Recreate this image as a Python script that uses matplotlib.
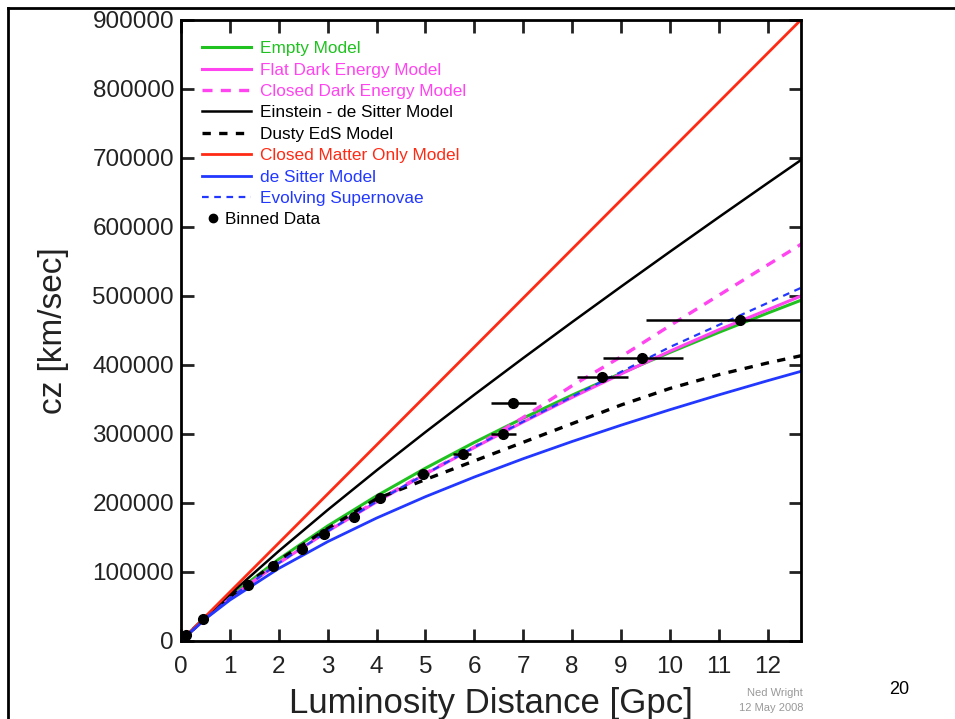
import matplotlib
matplotlib.use("Agg")
import matplotlib.pyplot as plt
from matplotlib.lines import Line2D
from matplotlib.ticker import FuncFormatter

plt.rcParams["font.family"] = ["Liberation Sans", "DejaVu Sans"]

# luminosity distance grid [Gpc]
dist = [0, 0.5, 1, 2, 3, 4, 5, 6, 7, 8, 9, 10, 11, 12, 12.7]

# model curves, cz [km/sec]
empty = [0, 33600, 64140, 118560, 166670, 210260, 250410, 287830, 323000,
         356280, 387960, 418250, 447300, 475270, 494300]
flat_de = [0, 33000, 61800, 113000, 158900, 201500, 241900, 280400, 317400,
           353000, 387000, 420000, 451000, 480000, 500500]
closed_de = [0, 33000, 62000, 113000, 160000, 203000, 243000, 281000, 324000,
             370000, 412000, 457000, 501000, 545000, 575700]
eds = [0, 34560, 67570, 130280, 189890, 247190, 302760, 356970, 410060,
       462190, 513530, 564170, 614200, 663680, 698000]
dusty_eds = [0, 34000, 64000, 117000, 163000, 206000, 234000, 261000, 288000,
             315000, 342000, 366000, 386000, 403000, 413700]
closed_matter = [0, 35500, 71000, 142000, 213000, 284000, 355000, 426000,
                 497000, 568000, 639000, 710000, 781000, 852000, 901700]
de_sitter = [0, 32070, 59280, 105130, 143920, 178140, 209120, 237630, 264190,
             289140, 312740, 335200, 356670, 377260, 391200]
evolving_sn = [0, 33000, 62000, 113000, 159000, 202000, 242000, 281000, 318000,
               354000, 390000, 426000, 458000, 490000, 512400]

# binned data
bin_d = [0.10, 0.46, 1.38, 1.89, 2.47, 2.92, 3.54, 4.07, 4.95, 5.76, 6.59,
         6.80, 8.62, 9.42, 11.43]
bin_cz = [8700, 31400, 81100, 108700, 132900, 155000, 180100, 206800, 241600,
          271000, 299500, 344400, 382100, 409700, 465100]
bin_dlo = [0.03, 0.04, 0.06, 0.07, 0.08, 0.09, 0.10, 0.11, 0.13, 0.20, 0.24,
           0.45, 0.52, 0.78, 1.92]
bin_dhi = [0.03, 0.04, 0.06, 0.07, 0.08, 0.09, 0.10, 0.11, 0.13, 0.18, 0.26,
           0.46, 0.53, 0.84, 2.00]

green = "#1fc21f"
magenta = "#ff44f0"
red = "#ff2a14"
blue = "#2238ff"

fig = plt.figure(figsize=(9.55, 7.19), dpi=100)
ax = fig.add_axes([0.1895, 0.1085, 0.6492, 0.8637])

ax.plot(dist, empty, color=green, lw=2.2, label="Empty Model")
ax.plot(dist, flat_de, color=magenta, lw=2.2, label="Flat Dark Energy Model")
ax.plot(dist, closed_de, color=magenta, lw=2.4, ls=(0, (3, 2.5)),
        label="Closed Dark Energy Model")
ax.plot(dist, eds, color="black", lw=1.8, label="Einstein - de Sitter Model")
ax.plot(dist, dusty_eds, color="black", lw=2.4, ls=(0, (2.5, 2.5)),
        label="Dusty EdS Model")
ax.plot(dist, closed_matter, color=red, lw=2.0, label="Closed Matter Only Model")
ax.plot(dist, de_sitter, color=blue, lw=2.0, label="de Sitter Model")
ax.plot(dist, evolving_sn, color=blue, lw=1.6, ls=(0, (3, 2.5)),
        label="Evolving Supernovae")
ax.errorbar(bin_d, bin_cz, xerr=[bin_dlo, bin_dhi], fmt="o", color="black",
            ms=7, elinewidth=1.8, capsize=0, zorder=5)

ax.set_xlim(0, 12.68)
ax.set_ylim(0, 900000)
ax.set_xticks(range(0, 13))
ax.set_yticks(range(0, 900001, 100000))
ax.yaxis.set_major_formatter(FuncFormatter(lambda v, p: "%d" % v))
ax.tick_params(direction="in", length=9, width=2, top=True, right=True,
               labelsize=17.5, colors="#222222")
ax.tick_params(axis="x", pad=11)
ax.tick_params(axis="y", pad=5)
for s in ax.spines.values():
    s.set_linewidth(2)

ax.set_xlabel("Luminosity Distance [Gpc]", fontsize=25, labelpad=6,
              color="#222222")
ax.set_ylabel("cz [km/sec]", fontsize=24, labelpad=17, color="#222222")

leg = ax.legend(loc="upper left", bbox_to_anchor=(0.022, 0.977), frameon=False,
                fontsize=12.4, handlelength=2.9, handletextpad=0.5,
                labelspacing=0.37, borderaxespad=0, labelcolor="linecolor")
ax.add_artist(leg)
dot = Line2D([], [], marker="o", color="black", ls="none", ms=6)
ax.legend([dot], ["Binned Data"], loc="upper left",
          bbox_to_anchor=(0.031, 0.702), frameon=False, fontsize=12.4,
          handlelength=0.7, handletextpad=0.35, borderaxespad=0)

fig.text(0.841, 0.032, "Ned Wright", fontsize=8, color="#999999", ha="right")
fig.text(0.841, 0.011, "12 May 2008", fontsize=8, color="#999999", ha="right")
fig.text(0.942, 0.035, "20", fontsize=13, color="black", ha="center")

# slide frame
fig.add_artist(Line2D([0.0084, 1.0], [0.9889, 0.9889], color="black", lw=2,
                      transform=fig.transFigure))
fig.add_artist(Line2D([0.0084, 0.0084], [0.0, 0.9889], color="black", lw=2,
                      transform=fig.transFigure))

fig.savefig("out.png", dpi=100)
